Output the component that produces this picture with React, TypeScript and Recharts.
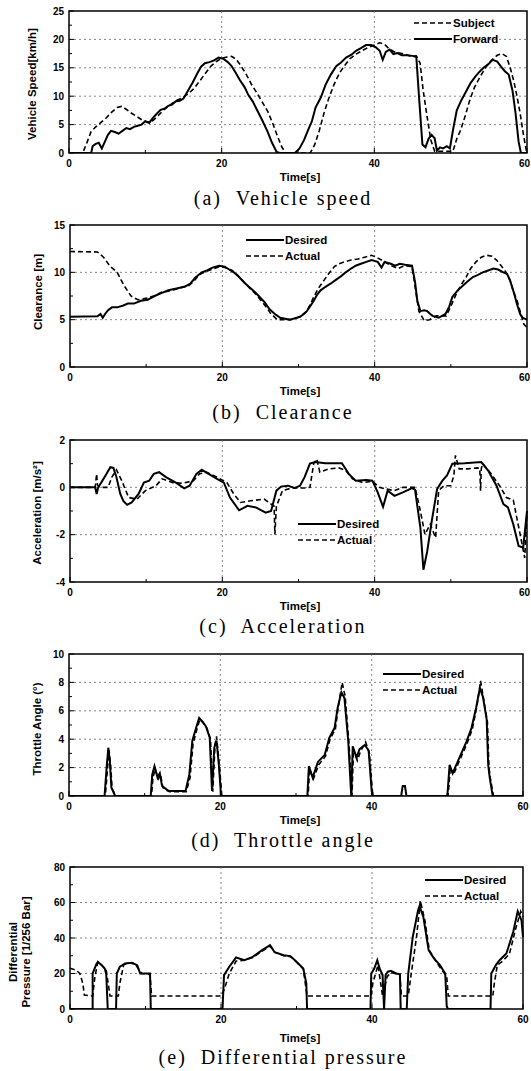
import React from "react";
import { LineChart, Line, XAxis, YAxis, ReferenceLine, ReferenceArea } from "recharts";

// (a) vehicle speed [km/h]
const forwardT = [0, 2.9, 3.1, 3.5, 3.9, 4.3, 4.7, 5.1, 5.5, 6, 6.5, 7, 7.5, 8, 8.5, 9, 9.5, 10, 10.5, 11, 11.5, 12, 12.5, 13, 13.5, 14, 14.5, 15, 15.6, 16.2, 16.8, 17.3, 17.8, 18.4, 19, 19.6, 20.2, 20.8, 21.3, 21.8, 22.4, 23, 23.5, 24.1, 24.7, 25.3, 26, 26.6, 27.2, 27.6, 29.6, 30.2, 30.8, 31.4, 31.8, 32.3, 33, 33.6, 34.3, 35, 35.6, 36.3, 37, 37.6, 38.3, 38.9, 39.6, 40.2, 40.7, 41.1, 41.5, 42, 42.5, 43, 43.6, 44.3, 45, 45.5, 45.9, 46.3, 46.7, 47.1, 47.5, 47.9, 48.2, 48.6, 49, 49.5, 49.9, 50.3, 50.8, 51.4, 52, 52.6, 53.2, 53.7, 54.3, 54.9, 55.5, 56.1, 56.6, 57.1, 57.6, 58.1, 58.5, 58.9, 59.2, 60];
const forwardV = [0, 0, 1.2, 1.6, 1.8, 0.8, 2, 3.2, 3.9, 3.7, 3.4, 3.9, 4.4, 4.2, 4.6, 4.8, 5.0, 5.6, 5.3, 6.2, 6.9, 7.6, 7.8, 8.3, 8.5, 9.1, 9.2, 9.6, 11.0, 12.4, 14.0, 15.2, 15.8, 16.0, 16.3, 16.8, 16.6, 16.0, 15.3, 14.2, 12.8, 11.6, 10.2, 9.0, 7.4, 5.8, 3.8, 1.8, 0.2, 0, 0, 0.8, 2.3, 4.3, 5.5, 8.0, 9.8, 12.0, 13.8, 15.3, 15.9, 16.8, 17.3, 18.0, 18.5, 19.0, 19.0, 18.6, 18.0, 16.4, 17.8, 18.2, 17.4, 17.6, 17.2, 17.2, 17.1, 16.9, 9, 1.5, 1.0, 2.5, 3.2, 2.6, 0.4, 1.0, 0.8, 1.2, 0.8, 4.0, 7.5, 9.3, 10.8, 12.3, 13.4, 14.2, 15.0, 15.6, 16.4, 16.1, 15.2, 14.4, 13.8, 11.0, 7.0, 2.0, 0, 0];
const subjectT = [0, 1.8, 2.4, 2.9, 3.5, 4.2, 4.9, 5.6, 6.3, 6.9, 7.5, 8.2, 8.9, 9.6, 10.3, 11, 11.7, 12.4, 13.2, 14, 14.8, 15.6, 16.4, 17.2, 17.9, 18.6, 19.3, 20, 20.7, 21.3, 21.9, 22.5, 23.2, 23.9, 24.6, 25.3, 26, 26.7, 27.3, 27.9, 28.4, 31.6, 32.2, 32.8, 33.4, 34, 34.7, 35.4, 36.1, 36.8, 37.6, 38.4, 39.2, 40, 40.7, 41.3, 41.9, 42.6, 43.3, 44, 44.8, 45.5, 46, 46.4, 46.9, 47.4, 47.9, 50.3, 50.8, 51.3, 51.9, 52.5, 53.1, 53.6, 54.2, 54.8, 55.4, 56.1, 56.7, 57.3, 57.8, 58.3, 58.7, 59.1, 59.5, 59.9, 60];
const subjectV = [0, 0, 2.0, 3.8, 4.6, 5.4, 6.2, 7.2, 8.0, 8.2, 7.7, 7.0, 6.4, 5.8, 5.4, 5.7, 6.6, 7.6, 8.4, 9.2, 9.7, 10.4, 11.4, 12.8, 14.1, 15.3, 16.1, 16.7, 16.9, 17.0, 16.5, 15.4, 13.9, 12.1, 10.6, 9.0, 7.4, 5.2, 3.0, 1.0, 0, 0, 1.5, 4.0, 7.0, 9.5, 12.0, 14.0, 15.4, 16.6, 17.4, 18.0, 18.6, 19.0, 19.4, 19.2, 18.4, 17.8, 17.6, 17.4, 17.0, 17.1, 15.8, 11.0, 6.5, 2.3, 0.3, 0.3, 2.5, 4.0, 6.5, 9.3, 11.5, 12.8, 14.2, 15.5, 16.4, 17.2, 17.5, 17.0, 15.0, 12.5, 9.9, 7.0, 3.5, 0.5, 0];

// (b) clearance [m]
const clrDesT = [0, 3.6, 4.0, 4.3, 4.6, 5.0, 5.5, 6.2, 7, 7.6, 8.4, 9.3, 10.2, 11.1, 12, 12.9, 14, 15.1, 15.8, 16.4, 17.3, 18, 18.7, 19.6, 20.3, 20.9, 21.5, 22.2, 22.9, 23.6, 24.3, 24.9, 25.6, 26.2, 26.9, 27.6, 28.9, 30.2, 30.7, 31.1, 31.6, 32, 32.5, 32.9, 33.6, 34.2, 34.9, 35.6, 36.2, 36.9, 37.5, 38.2, 38.9, 39.6, 40.4, 40.9, 41.3, 42.1, 42.7, 43.3, 44, 44.9, 45.3, 45.6, 46, 46.5, 46.9, 47.3, 47.6, 48.4, 49.3, 49.8, 50.2, 50.9, 51.6, 52.3, 52.9, 53.5, 54.2, 54.9, 55.6, 56.2, 56.9, 57.4, 57.8, 58.3, 58.7, 59.1, 59.4, 60];
const clrDesV = [5.3, 5.35, 5.6, 5.2, 5.6, 6.0, 6.3, 6.3, 6.5, 6.7, 6.7, 7.0, 7.1, 7.5, 7.8, 8.1, 8.3, 8.5, 8.8, 9.4, 10.0, 10.2, 10.5, 10.7, 10.6, 10.3, 10.0, 9.5, 8.9, 8.4, 7.9, 7.4, 6.8, 6.1, 5.6, 5.2, 5.0, 5.3, 5.6, 5.9, 6.5, 7.0, 7.7, 8.1, 8.5, 8.8, 9.2, 9.6, 10.0, 10.4, 10.7, 10.9, 11.1, 11.3, 11.1, 10.5, 11.1, 10.9, 10.7, 10.9, 10.8, 10.7, 9.0, 7.0, 5.9, 6.0, 5.9, 5.6, 5.4, 5.2, 5.6, 6.4, 7.4, 8.1, 8.6, 9.1, 9.5, 9.7, 10.0, 10.2, 10.4, 10.3, 10.0, 9.8, 9.1, 7.8, 6.6, 5.6, 5.2, 5.0];
const clrActT = [0, 3.6, 4.4, 5.3, 6.2, 6.7, 7.1, 7.6, 8, 8.9, 9.6, 10.2, 11, 12, 12.9, 13.8, 14.7, 15.6, 16.3, 16.9, 17.6, 18.2, 18.9, 19.6, 20.4, 21.3, 22, 22.7, 23.5, 24.4, 25.1, 25.8, 26.3, 26.7, 27.2, 28.9, 30.2, 31.1, 31.6, 32, 32.6, 33.3, 34, 34.7, 35.3, 36, 36.9, 37.8, 38.7, 39.6, 40.2, 40.9, 41.5, 42.2, 43.1, 43.6, 44, 44.9, 45.4, 45.8, 46.5, 47.2, 48.1, 49.4, 50, 50.7, 51.3, 52, 52.6, 53.3, 54, 54.7, 55.4, 56, 56.5, 56.9, 57.4, 57.8, 58.2, 58.7, 59.2, 59.6, 60];
const clrActV = [12.2, 12.15, 11.6, 10.6, 10.0, 9.2, 8.6, 8.0, 7.5, 7.1, 7.2, 7.3, 7.5, 7.9, 8.0, 8.2, 8.4, 8.6, 9.1, 9.7, 10.0, 10.2, 10.4, 10.6, 10.5, 10.2, 9.7, 9.1, 8.4, 7.7, 7.0, 6.3, 5.7, 5.4, 5.0, 5.0, 5.3, 5.9, 6.7, 7.4, 8.3, 9.1, 9.9, 10.6, 10.9, 11.1, 11.3, 11.4, 11.6, 11.8, 11.6, 11.3, 11.0, 10.7, 10.4, 10.6, 10.7, 10.6, 8.0, 5.9, 4.9, 5.0, 5.4, 5.4, 6.4, 7.7, 8.6, 9.5, 10.4, 11.1, 11.6, 11.8, 11.7, 11.3, 10.8, 10.4, 9.8, 9.1, 8.0, 7.0, 5.6, 4.5, 4.2];

// (c) acceleration [m/s2]
const accDesT = [0, 3.3, 3.5, 3.7, 4.1, 4.8, 5.3, 5.7, 6.1, 6.6, 7, 7.5, 8.1, 9, 9.7, 10.4, 11, 11.7, 12.6, 13.9, 15, 15.7, 16.6, 17.3, 18.2, 19.3, 20.2, 21, 22.2, 23.3, 24.4, 25.7, 26.4, 27.1, 27.7, 28.6, 29.5, 30.2, 30.8, 31.5, 32.2, 33.5, 35.7, 36.6, 37.5, 38.9, 39.7, 40.4, 41.1, 41.7, 42.6, 43.7, 44.9, 45.3, 46, 46.4, 46.9, 47.5, 48.2, 48.9, 49.5, 50.2, 51.8, 54, 54.9, 56, 56.9, 57.5, 58.2, 58.9, 59.5, 60];
const accDesV = [0, 0, -0.28, 0, 0.2, 0.57, 0.85, 0.82, 0.43, -0.28, -0.57, -0.74, -0.64, -0.28, 0.2, 0.28, 0.57, 0.64, 0.43, 0.2, -0.04, 0.07, 0.57, 0.74, 0.57, 0.36, 0.2, -0.43, -0.97, -0.78, -0.85, -1.07, -1.0, -0.14, 0.03, 0.07, -0.03, 0.07, 0.43, 1.0, 1.07, 1.02, 1.02, 0.57, 0.28, 0.31, 0.28, -0.21, -0.82, -0.14, -0.36, -0.21, -0.03, -0.1, -1.7, -3.48, -2.7, -1.42, -0.07, 0.28, 0.5, 1.0, 1.02, 1.07, 0.71, 0.07, -0.71, -0.85, -1.56, -2.48, -2.55, -1.0];
const accActT = [0, 3.3, 3.5, 3.6, 3.9, 5, 5.5, 6.1, 6.8, 7.7, 8.8, 9.9, 11.3, 12.1, 13.5, 14.8, 16.2, 17, 17.9, 19.3, 20.6, 21.5, 22.4, 23.7, 25.5, 26.4, 26.8, 26.9, 27.1, 27.9, 29.1, 30.8, 31.5, 32, 32.4, 32.8, 34, 35.3, 36.2, 37.1, 38.4, 39.7, 40.6, 41.5, 42.6, 43.7, 45.3, 46, 46.6, 47.3, 48, 48.4, 49.1, 50, 50.4, 50.6, 51.1, 52.2, 53.5, 53.8, 53.9, 54, 54.2, 55.3, 56.4, 57.3, 58.2, 59.1, 59.7, 60];
const accActV = [0, 0, 0.57, 0.1, 0, 0, 0.43, 0.74, 0.28, -0.43, -0.5, -0.14, 0.07, 0.36, 0.2, 0.17, 0.28, 0.57, 0.64, 0.43, 0.2, -0.28, -0.64, -0.57, -0.5, -0.71, -0.8, -1.99, -0.8, -0.14, -0.03, -0.03, 0, 1.0, 1.2, 0.64, 0.78, 0.82, 0.71, 0.36, 0.2, 0.26, 0, -0.07, -0.14, 0, 0, -1.0, -1.99, -1.56, -2.13, -0.14, 0.07, 0.07, 0.5, 1.35, 0.78, 0.78, 0.82, 0.8, -0.14, 0.8, 1.0, 0.57, 0.07, -0.43, -0.54, -1.99, -2.98, -1.0];

// (d) throttle angle [deg]
const thrDesT = [0, 4.7, 5.0, 5.2, 5.4, 5.6, 6.1, 10.8, 11.0, 11.3, 11.7, 12.0, 12.3, 12.8, 13.2, 15.4, 15.9, 16.3, 16.8, 17.2, 17.7, 18.1, 18.6, 18.9, 19.2, 19.5, 19.8, 20.1, 31.5, 31.7, 32.2, 32.9, 33.8, 34.4, 35.1, 35.5, 36.0, 36.4, 36.9, 37.3, 37.5, 38.0, 38.4, 39.1, 39.6, 40.0, 40.2, 43.9, 44.1, 44.4, 44.6, 50.0, 50.3, 50.7, 51.6, 52.5, 53.2, 53.8, 54.3, 54.7, 55.2, 55.4, 55.6, 56.0, 60];
const thrDesV = [0, 0, 2.2, 3.4, 2.4, 0.6, 0, 0, 1.5, 2.1, 1.3, 1.6, 0.7, 0.5, 0.35, 0.35, 1.5, 3.9, 4.8, 5.5, 5.2, 4.9, 4.1, 0.35, 3.4, 3.9, 2.2, 0, 0, 2.1, 1.3, 2.4, 2.9, 4.1, 4.8, 6.2, 7.3, 6.9, 3.9, 0, 3.5, 2.7, 3.3, 3.6, 3.2, 0.35, 0, 0, 0.7, 0.7, 0, 0, 2.2, 1.6, 2.7, 3.8, 4.8, 6.2, 7.6, 7.0, 5.4, 2.2, 1.3, 0, 0];
const thrActT = [0, 4.8, 5.1, 5.3, 5.5, 5.7, 6.2, 10.9, 11.1, 11.4, 11.8, 12.1, 12.4, 12.9, 13.3, 15.5, 16.0, 16.4, 16.9, 17.3, 17.8, 18.2, 18.7, 19.0, 19.3, 19.5, 19.9, 20.2, 31.6, 31.8, 32.3, 33.0, 33.9, 34.5, 35.2, 35.6, 36.1, 36.5, 37.0, 37.4, 37.6, 38.1, 38.5, 39.2, 39.7, 40.1, 40.3, 50.1, 50.4, 50.8, 51.7, 52.6, 53.3, 53.9, 54.4, 54.8, 55.3, 55.5, 55.7, 56.1, 60];
const thrActV = [0, 0, 2.0, 3.2, 2.2, 0.5, 0, 0, 1.3, 1.9, 1.2, 1.5, 0.6, 0.4, 0.3, 0.3, 1.3, 3.7, 4.7, 5.4, 5.1, 4.8, 4.0, 0.3, 3.6, 4.2, 2.0, 0, 0, 1.9, 1.2, 2.2, 2.8, 4.0, 4.7, 6.3, 8.0, 7.0, 3.7, 0, 3.3, 2.5, 3.1, 3.8, 3.0, 0.3, 0, 0, 2.0, 1.5, 2.6, 3.7, 4.7, 6.3, 8.1, 6.8, 5.2, 2.0, 1.2, 0, 0];

// (e) differential pressure [1/256 bar]
const prDesT = [0, 3.0, 3.0, 3.5, 3.7, 4.2, 4.6, 4.8, 5.0, 6.1, 6.2, 6.6, 7.3, 8.2, 8.9, 9.3, 10.6, 10.7, 20.2, 20.4, 21.1, 22, 23.1, 24.2, 25.4, 26.5, 27.1, 28.3, 29.2, 30, 30.9, 31.3, 31.4, 39.8, 39.9, 40.3, 40.7, 41, 41.4, 41.6, 41.8, 42.1, 42.5, 43.2, 43.7, 43.8, 44.6, 44.8, 45.4, 46.1, 46.3, 46.8, 47.5, 48.2, 49, 49.7, 49.9, 50.1, 55.7, 55.8, 56.4, 56.9, 57.8, 58.7, 59.3, 59.8, 60];
const prDesV = [0, 0, 20, 25.3, 26.5, 24.7, 22.8, 19.6, 0, 0, 20, 23.8, 25.7, 26, 24.7, 20, 20, 0, 0, 19.1, 23.8, 29, 27.5, 29.4, 33, 36, 32, 30.3, 29.8, 26.6, 22.8, 14.4, 0, 0, 20, 22.8, 27.5, 23, 19.1, 0, 19.1, 21, 21.5, 20, 19.5, 0, 0, 20, 40.6, 55.6, 58, 51.9, 33.1, 28.5, 24.7, 20, 1.3, 0, 0, 20, 24.7, 27.5, 31.3, 43.4, 55, 50, 40.6];
const prActT = [0, 0.8, 1.3, 1.7, 1.9, 3.0, 3.3, 3.7, 4.2, 4.8, 5.3, 6.4, 6.6, 7.1, 7.7, 8.6, 9.5, 10.6, 10.8, 20.0, 20.4, 21.1, 22, 23.1, 24.2, 25.4, 26.5, 27.1, 28.3, 29.2, 30, 30.9, 31.4, 39.9, 40.1, 40.8, 41.4, 42, 42.5, 43.7, 43.9, 44.8, 45.2, 45.9, 46.4, 47, 47.6, 48.8, 49.9, 50.1, 56, 56.2, 56.6, 57.3, 58.2, 59.1, 59.7, 60];
const prActV = [23, 21.9, 20, 14.4, 7.9, 7.3, 18.2, 26.6, 24.7, 21.9, 7.3, 7.3, 14.4, 24.7, 26, 25.5, 20, 19.5, 7.3, 7.3, 10.7, 20, 27, 27.5, 29, 32.5, 35.5, 32, 30, 29.5, 26.5, 22.5, 7.3, 7.3, 14.4, 24.7, 7.3, 18.2, 20.5, 19.5, 7.3, 7.3, 20, 40.6, 61, 50, 33, 24.7, 18.2, 7.3, 7.3, 14.4, 24.7, 27, 31, 46.3, 55, 51.9];

const xMajor = [0, 20, 40, 60];
const xTicks = [0, 10, 20, 30, 40, 50, 60];

type Pt = { t: number; v: number };
const zip = (t: number[], v: number[]): Pt[] =>
  t.slice(0, Math.min(t.length, v.length)).map((x, i) => ({ t: x, v: v[i] }));

const SANS = '"Liberation Sans", Arial, sans-serif';
const SERIF = '"Liberation Serif", "Times New Roman", serif';

const YTick = (props: any) => {
  const { x, y, payload, majors } = props;
  const major = majors.includes(payload.value);
  return (
    <g>
      <line x1={x} x2={x + (major ? 5 : 3)} y1={y} y2={y} stroke="#000" strokeWidth={1} />
      {major && (
        <text x={x - 5} y={y} dy={3.5} textAnchor="end" fontSize={10} fontWeight="bold" fontFamily={SANS} fill="#000">
          {payload.value}
        </text>
      )}
    </g>
  );
};

const XTick = (props: any) => {
  const { x, y, payload } = props;
  const major = xMajor.includes(payload.value);
  // keep the last label inside the page
  const nearEdge = x + 6 > 530;
  return (
    <g>
      <line x1={x} x2={x} y1={y} y2={y - (major ? 5 : 3)} stroke="#000" strokeWidth={1} />
      {major && (
        <text
          x={nearEdge ? 530 : x}
          y={y + 14}
          textAnchor={nearEdge ? "end" : "middle"}
          fontSize={10}
          fontWeight="bold"
          fontFamily={SANS}
          fill="#000"
        >
          {payload.value}
        </text>
      )}
    </g>
  );
};

type Series = { name: string; data: Pt[]; dashed: boolean };

type PanelProps = {
  top: number;
  left: number;
  right: number;
  yDomain: [number, number];
  yMajor: number[];
  yTicks: number[];
  yGrid: number[];
  series: Series[];
  legendX: number;
  legendY: number;
  yLabel: string[];
  yLabelX: number;
  yLabelY: number;
  timeY: number;
  caption: string;
  captionY: number;
};

const LegendRow = ({ s, y, x }: { s: Series; y: number; x: number }) => (
  <div style={{ position: "absolute", left: x, top: y - 7, height: 14, display: "flex", alignItems: "center" }}>
    <svg width={38} height={6} style={{ display: "block" }}>
      <line x1={0} x2={38} y1={3} y2={3} stroke="#000" strokeWidth={s.dashed ? 1.5 : 2} strokeDasharray={s.dashed ? "5 3" : undefined} />
    </svg>
    <span style={{ marginLeft: 1, fontFamily: SANS, fontWeight: "bold", fontSize: 11.5, lineHeight: "14px" }}>{s.name}</span>
  </div>
);

const Panel = (p: PanelProps) => {
  const plotH = 142;
  return (
    <>
      <div style={{ position: "absolute", left: 0, top: p.top - 10 }}>
        <LineChart width={531} height={plotH + 40} margin={{ top: 10, right: 531 - p.right, bottom: 0, left: 0 }}>
          <XAxis
            dataKey="t"
            type="number"
            domain={[0, 60]}
            ticks={xTicks}
            interval={0}
            height={30}
            tickSize={0}
            tickMargin={0}
            axisLine={false}
            tickLine={false}
            tick={<XTick />}
            allowDuplicatedCategory={false}
          />
          <YAxis
            type="number"
            domain={p.yDomain}
            ticks={p.yTicks}
            interval={0}
            width={p.left}
            tickSize={0}
            tickMargin={0}
            axisLine={false}
            tickLine={false}
            tick={<YTick majors={p.yMajor} />}
            allowDataOverflow
          />
          {p.yGrid.map((g) => (
            <ReferenceLine key={"h" + g} y={g} stroke="#666" strokeWidth={0.8} strokeDasharray="2 3" />
          ))}
          {[20, 40].map((g) => (
            <ReferenceLine key={"v" + g} x={g} stroke="#666" strokeWidth={0.8} strokeDasharray="2 3" />
          ))}
          <ReferenceArea x1={0} x2={60} y1={p.yDomain[0]} y2={p.yDomain[1]} fill="none" stroke="#000" strokeWidth={1.5} />
          {p.series.map((s) => (
            <Line
              key={s.name}
              data={s.data}
              dataKey="v"
              type="linear"
              stroke="#000"
              strokeWidth={s.dashed ? 1.6 : 2}
              strokeDasharray={s.dashed ? "5 3" : undefined}
              dot={false}
              activeDot={false}
              isAnimationActive={false}
            />
          ))}
        </LineChart>
      </div>
      {p.series.map((s, i) => (
        <LegendRow key={s.name} s={s} x={p.legendX} y={p.legendY + i * 16} />
      ))}
      <div
        style={{
          position: "absolute",
          left: p.yLabelX,
          top: p.yLabelY,
          transform: "translate(-50%, -50%) rotate(-90deg)",
          whiteSpace: "nowrap",
          textAlign: "center",
          fontFamily: SANS,
          fontWeight: "bold",
          fontSize: 11.5,
          lineHeight: "13px",
        }}
      >
        {p.yLabel.map((l) => (
          <div key={l}>{l}</div>
        ))}
      </div>
      <div
        style={{
          position: "absolute",
          left: 250,
          width: 100,
          top: p.timeY - 6,
          textAlign: "center",
          fontFamily: SANS,
          fontWeight: "bold",
          fontSize: 11.5,
          lineHeight: "12px",
        }}
      >
        Time[s]
      </div>
      <div
        style={{
          position: "absolute",
          left: 83,
          width: 400,
          top: p.captionY - 9,
          textAlign: "center",
          fontFamily: SERIF,
          fontSize: 20,
          letterSpacing: 2,
          lineHeight: "18px",
          whiteSpace: "pre",
        }}
      >
        {p.caption}
      </div>
    </>
  );
};

export default function App() {
  return (
    <div style={{ position: "absolute", left: 0, top: 0, width: 531, height: 1071, background: "#fff", color: "#000" }}>
      <Panel
        top={11}
        left={69}
        right={527}
        yDomain={[0, 25]}
        yMajor={[0, 5, 10, 15, 20, 25]}
        yTicks={[0, 2.5, 5, 7.5, 10, 12.5, 15, 17.5, 20, 22.5, 25]}
        yGrid={[5, 10, 15, 20]}
        series={[
          { name: "Subject", data: zip(subjectT, subjectV), dashed: true },
          { name: "Forward", data: zip(forwardT, forwardV), dashed: false },
        ]}
        legendX={414}
        legendY={23}
        yLabel={["Vehicle Speed[km/h]"]}
        yLabelX={32}
        yLabelY={84}
        timeY={177}
        caption={"(a)  Vehicle speed"}
        captionY={198}
      />
      <Panel
        top={225}
        left={70}
        right={527}
        yDomain={[0, 15]}
        yMajor={[0, 5, 10, 15]}
        yTicks={[0, 2.5, 5, 7.5, 10, 12.5, 15]}
        yGrid={[5, 10]}
        series={[
          { name: "Desired", data: zip(clrDesT, clrDesV), dashed: false },
          { name: "Actual", data: zip(clrActT, clrActV), dashed: true },
        ]}
        legendX={246}
        legendY={240}
        yLabel={["Clearance [m]"]}
        yLabelX={38}
        yLabelY={292}
        timeY={391}
        caption={"(b)  Clearance"}
        captionY={412}
      />
      <Panel
        top={440}
        left={70}
        right={527}
        yDomain={[-4, 2]}
        yMajor={[-4, -2, 0, 2]}
        yTicks={[-4, -3, -2, -1, 0, 1, 2]}
        yGrid={[-2, 0]}
        series={[
          { name: "Desired", data: zip(accDesT, accDesV), dashed: false },
          { name: "Actual", data: zip(accActT, accActV), dashed: true },
        ]}
        legendX={298}
        legendY={524}
        yLabel={["Acceleration [m/s²]"]}
        yLabelX={37}
        yLabelY={513}
        timeY={606}
        caption={"(c)  Acceleration"}
        captionY={626}
      />
      <Panel
        top={654}
        left={69}
        right={523}
        yDomain={[0, 10]}
        yMajor={[0, 2, 4, 6, 8, 10]}
        yTicks={[0, 1, 2, 3, 4, 5, 6, 7, 8, 9, 10]}
        yGrid={[2, 4, 6, 8]}
        series={[
          { name: "Desired", data: zip(thrDesT, thrDesV), dashed: false },
          { name: "Actual", data: zip(thrActT, thrActV), dashed: true },
        ]}
        legendX={383}
        legendY={674}
        yLabel={["Throttle Angle (°)"]}
        yLabelX={37}
        yLabelY={729}
        timeY={820}
        caption={"(d)  Throttle angle"}
        captionY={840}
      />
      <Panel
        top={867}
        left={70}
        right={523}
        yDomain={[0, 80]}
        yMajor={[0, 20, 40, 60, 80]}
        yTicks={[0, 10, 20, 30, 40, 50, 60, 70, 80]}
        yGrid={[20, 40, 60]}
        series={[
          { name: "Desired", data: zip(prDesT, prDesV), dashed: false },
          { name: "Actual", data: zip(prActT, prActV), dashed: true },
        ]}
        legendX={425}
        legendY={880}
        yLabel={["Differential", "Pressure [1/256 Bar]"]}
        yLabelX={20}
        yLabelY={952}
        timeY={1038}
        caption={"(e)  Differential pressure"}
        captionY={1057}
      />
    </div>
  );
}
